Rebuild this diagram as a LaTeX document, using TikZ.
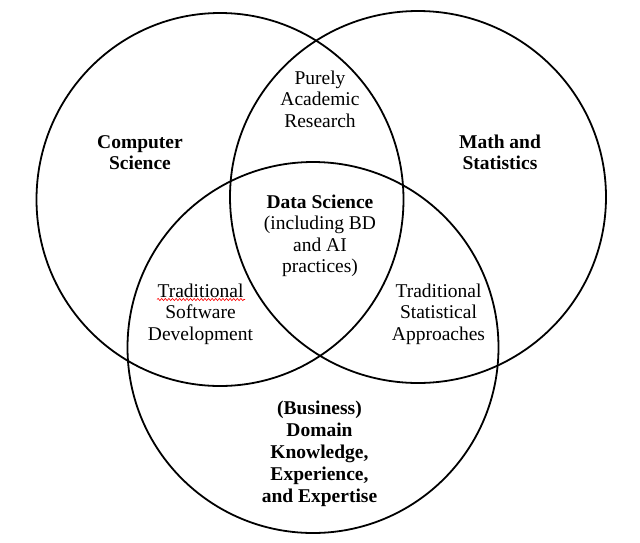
\documentclass[tikz,border=0pt]{standalone}
\usepackage{fontspec}
\setmainfont{Liberation Serif}
\usetikzlibrary{decorations.pathmorphing}
\begin{document}
\begin{tikzpicture}[x=1pt,y=-1pt,
  ring/.style={draw=black,line width=1.8pt},
  lbl/.style={align=center,inner sep=0pt,anchor=base,
    font=\fontsize{19.5}{21.6}\selectfont},
  blbl/.style={lbl,font=\fontsize{19.5}{21.9}\selectfont\bfseries}]
\useasboundingbox (0,0) rectangle (640,542);
\fill[white] (0,0) rectangle (640,542);
% circles
\draw[ring] (220,199.5) ellipse [x radius=183.5, y radius=186.5];
\draw[ring] (418,197) ellipse [x radius=188, y radius=186];
\draw[ring] (313,347.5) ellipse [x radius=185.5, y radius=185.5];
% labels (anchored at the baseline of their last line)
\node[lbl]  (acad) at (320,127.2)   {Purely\\Academic\\Research};
\node[blbl] (cs)   at (140,169.9)   {Computer\\Science};
\node[blbl] (ms)   at (500,169.9)   {Math and\\Statistics};
\node[lbl]  (ds)   at (320,272.8)   {\textbf{Data Science}\\(including BD\\and AI\\practices)};
\node[lbl]  (tsd)  at (200.5,340.2) {Traditional\\Software\\Development};
\node[lbl]  (tsa)  at (438.5,340.2) {Traditional\\Statistical\\Approaches};
\node[blbl] (dom)  at (319.5,502.5) {(Business)\\Domain\\Knowledge,\\Experience,\\and Expertise};
% spell-check underline
\coordinate (ula) at (157,299.5);
\coordinate (ulb) at (245,299.5);
\draw[red,line width=0.6pt,decorate,decoration={snake,amplitude=1.1pt,segment length=3.6pt}] (ula) -- (ulb);
\end{tikzpicture}
\end{document}
